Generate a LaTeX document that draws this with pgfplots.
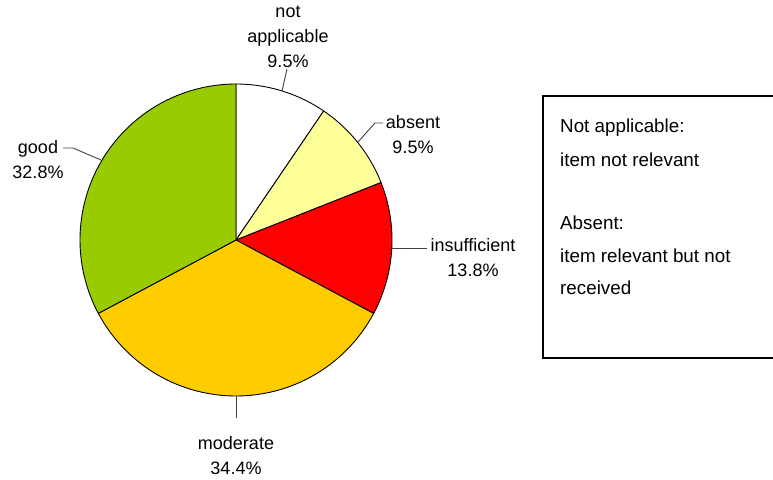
\documentclass[border=0pt]{standalone}
\usepackage{pgfplots}
\pgfplotsset{compat=1.18}
\usepackage{fontspec}
\setmainfont{Liberation Sans}
\definecolor{cgood}{HTML}{99CC00}
\definecolor{cmod}{HTML}{FFCC00}
\definecolor{cins}{HTML}{FF0000}
\definecolor{cabs}{HTML}{FFFF99}
\definecolor{clead}{HTML}{404040}
% slice: #1 start cumulative %, #2 end cumulative %, #3 colour
\newcommand{\slice}[3]{%
  \addplot[fill=#3, draw=black, line width=0.9pt, line join=round,
    domain={90-3.6*(#2)}:{90-3.6*(#1)}, samples=90, variable=\t]
    ({236+156*cos(\t)},{240-156*sin(\t)}) -- (axis cs:236,240) -- cycle;}
\tikzset{lab/.style={font=\fontsize{18}{25}\selectfont, align=center, text=black},
  note/.style={font=\fontsize{18.8}{25}\selectfont, anchor=west, inner sep=0pt, text=black}}
\begin{document}
\begin{tikzpicture}
\begin{axis}[
  at={(0,0)}, anchor=south west,
  scale only axis, width=773pt, height=479pt,
  xmin=0, xmax=773, ymin=0, ymax=479, y dir=reverse,
  hide axis, no marks, clip=false,
]
% pie slices (percent: 9.5, 9.5, 13.8, 34.4, 32.8)
\slice{0}{9.5}{white}
\slice{9.5}{19.0}{cabs}
\slice{19.0}{32.8}{cins}
\slice{32.8}{67.2}{cmod}
\slice{67.2}{100}{cgood}
% leader lines
\addplot[clead, line width=0.9pt] coordinates {(282,91) (287,69)};
\addplot[clead, line width=0.9pt] coordinates {(358,142) (375,123) (383,123)};
\addplot[clead, line width=0.9pt] coordinates {(392,248) (427,248)};
\addplot[clead, line width=0.9pt] coordinates {(236,396) (236,418)};
\addplot[clead, line width=0.9pt] coordinates {(101,160) (73,148) (63,148)};
% labels
\node[lab] at (axis cs:288,37) {not\\applicable\\9.5\%};
\node[lab] at (axis cs:413,134.5) {absent\\9.5\%};
\node[lab] at (axis cs:473,257.5) {insufficient\\13.8\%};
\node[lab] at (axis cs:236,455.5) {moderate\\34.4\%};
\node[lab] at (axis cs:38,160) {good\\32.8\%};
% note box
\draw[black, line width=1.3pt] (axis cs:772.5,96) -- (axis cs:543,96) -- (axis cs:543,358) -- (axis cs:772.5,358);
\node[note] at (axis cs:560,128) {Not applicable:};
\node[note] at (axis cs:560,160) {item not relevant};
\node[note] at (axis cs:560,223) {Absent:};
\node[note] at (axis cs:560,256) {item relevant but not};
\node[note] at (axis cs:560,288) {received};
\end{axis}
\pgfresetboundingbox
\path (0,0) rectangle (773pt,479pt);
\end{tikzpicture}
\end{document}
